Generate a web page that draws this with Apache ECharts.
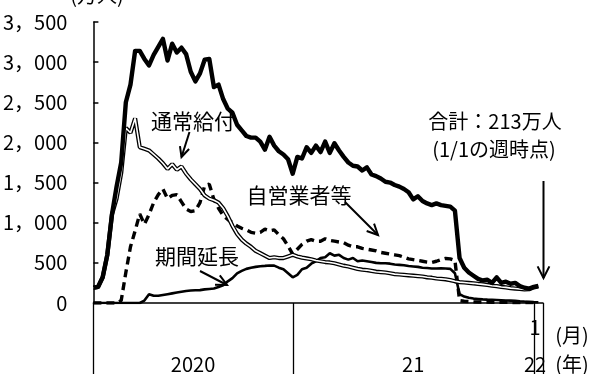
<!DOCTYPE html>
<html>
<head>
<meta charset="utf-8">
<script src="https://cdn.jsdelivr.net/npm/echarts@6/dist/echarts.min.js"></script>
<style>
  html, body { margin: 0; padding: 0; background: #fff; }
  #chart { width: 593px; height: 374px; }
</style>
</head>
<body>
<div id="chart"></div>
<script>
// Weekly continued claims (万人), first week of March 2020 to the week of 2022/1/1.
const total = [
  190, 200, 320, 600, 1100, 1450, 1750, 2500, 2720, 3140,
  3140, 3040, 2960, 3090, 3190, 3290, 3020, 3230, 3120, 3180,
  3100, 2880, 2760, 2860, 3030, 3040, 2690, 2720, 2540, 2420,
  2370, 2220, 2150, 2080, 2060, 2060, 2010, 1910, 2070, 1960,
  1890, 1850, 1790, 1610, 1820, 1800, 1940, 1870, 1960, 1880,
  2010, 1870, 1990, 1900, 1820, 1750, 1710, 1700, 1650, 1690,
  1600, 1580, 1550, 1510, 1500, 1470, 1450, 1420, 1380, 1290,
  1330, 1270, 1240, 1220, 1240, 1220, 1210, 1200, 1150, 560,
  440, 380, 340, 300, 280, 290, 250, 320, 250, 265,
  240, 250, 210, 190, 180, 200, 213
];
// 通常給付
const regular = [
  190, 200, 320, 600, 1100, 1300, 1620, 2180, 2120, 2300,
  1940, 1920, 1900, 1850, 1800, 1740, 1670, 1730, 1660, 1700,
  1610, 1540, 1480, 1420, 1340, 1300, 1280, 1250, 1180, 1080,
  960, 860, 790, 740, 700, 650, 620, 590, 560, 570,
  560, 560, 580, 600, 580, 565, 555, 545, 530, 520,
  510, 505, 495, 480, 465, 455, 440, 425, 415, 410,
  400, 390, 385, 380, 370, 360, 355, 350, 345, 340,
  335, 330, 320, 315, 305, 300, 295, 285, 270, 260,
  255, 250, 245, 238, 232, 225, 215, 210, 200, 195,
  185, 180, 175, 170, 172, 195, 205
];
// 自営業者等
const selfEmployed = [
  0, 0, 0, 0, 0, 0, 30, 380, 700, 900,
  1110, 980, 1100, 1250, 1350, 1420, 1300, 1340, 1350, 1260,
  1170, 1140, 1150, 1250, 1460, 1480, 1290, 1180, 1090, 1040,
  1000, 960, 930, 910, 880, 870, 880, 920, 900, 910,
  850, 800, 710, 610, 670, 730, 770, 790, 770, 770,
  800, 780, 770, 760, 750, 720, 700, 700, 680, 670,
  660, 650, 630, 620, 610, 600, 590, 570, 550, 540,
  530, 520, 510, 505, 520, 540, 555, 550, 530, 30,
  22, 18, 15, 13, 12, 11, 10, 9, 8, 8,
  7, 7, 6, 6, 5, 5, 5
];
// 期間延長
const extended = [
  0, 0, 0, 0, 0, 0, 0, 0, 0, 0,
  0, 30, 110, 90, 90, 100, 110, 120, 130, 140,
  150, 155, 158, 160, 170, 175, 180, 200, 220, 270,
  310, 370, 400, 425, 440, 450, 458, 462, 468, 465,
  440, 420, 370, 320, 350, 420, 440, 490, 520, 560,
  570, 620, 590, 600, 560, 540, 560, 520, 530, 520,
  510, 500, 495, 495, 490, 480, 475, 470, 460, 455,
  450, 440, 435, 430, 430, 432, 430, 425, 370, 110,
  80, 65, 55, 50, 45, 42, 40, 38, 35, 32,
  30, 28, 22, 18, 15, 12, 10
];

// Period boundaries on the week axis: start, 2021, 2022/1, end
const periodEdges = [0, 43, 95, 97];
const yearLabels = ['2020', '21', '22'];
const yearLabelAt = [21.5, 69, 95.3];
const monthLabels = ['1'];
const monthLabelAt = [95.3];

const FONT = '"Liberation Sans Narrow", "Noto Sans CJK JP", sans-serif';
const JP = '"Noto Sans CJK JP", sans-serif';

const pairs = arr => arr.map((v, i) => [i, v]);

const chart = echarts.init(document.getElementById('chart'), null, { renderer: 'canvas' });

const option = {
  animation: false,
  backgroundColor: '#fff',
  grid: { left: 93, right: 50, top: 22, bottom: 71 },
  xAxis: {
    type: 'value',
    min: periodEdges[0],
    max: periodEdges[periodEdges.length - 1],
    axisLine: { show: true, lineStyle: { color: '#000', width: 1.5 } },
    axisTick: { show: false },
    axisLabel: { show: false },
    splitLine: { show: false }
  },
  yAxis: {
    type: 'value',
    min: 0,
    max: 3500,
    interval: 500,
    axisLine: { show: true, lineStyle: { color: '#000', width: 1.5 } },
    axisTick: { show: true, inside: true, length: 5, lineStyle: { color: '#000', width: 1.5 } },
    axisLabel: {
      color: '#000',
      fontFamily: FONT,
      fontSize: 20,
      margin: 26,
      formatter: v => v >= 1000
        ? Math.floor(v / 1000) + '，' + String(v % 1000).padStart(3, '0')
        : String(v)
    },
    splitLine: { show: false }
  },
  series: [
    {
      name: '期間延長', type: 'line', data: pairs(extended), symbol: 'none',
      lineStyle: { color: '#000', width: 2.6 }, z: 2
    },
    {
      name: '自営業者等', type: 'line', data: pairs(selfEmployed), symbol: 'none',
      lineStyle: { color: '#000', width: 3.4, type: [8, 5] }, z: 3
    },
    {
      name: '通常給付', type: 'line', data: pairs(regular), symbol: 'none',
      lineStyle: { color: '#000', width: 4.2 }, z: 4
    },
    {
      name: '通常給付(内側)', type: 'line', data: pairs(regular), symbol: 'none',
      lineStyle: { color: '#fff', width: 1.6 }, z: 5
    },
    {
      name: '合計', type: 'line', data: pairs(total), symbol: 'none',
      lineStyle: { color: '#000', width: 4.4, join: 'round' }, z: 6
    }
  ]
};

chart.setOption(option);

// Annotations: period separators, year/month labels, series captions and arrows
function arrow(x1, y1, x2, y2, len, spread) {
  const a = Math.atan2(y2 - y1, x2 - x1);
  const p1 = [x2 - len * Math.cos(a - spread), y2 - len * Math.sin(a - spread)];
  const p2 = [x2 - len * Math.cos(a + spread), y2 - len * Math.sin(a + spread)];
  return [
    { type: 'line', shape: { x1, y1, x2, y2 }, style: { stroke: '#000', lineWidth: 2 } },
    { type: 'polyline', shape: { points: [p1, [x2, y2], p2] }, style: { stroke: '#000', lineWidth: 2, fill: null } }
  ];
}

function text(str, x, y, size, family) {
  return {
    type: 'text', x, y,
    style: { text: str, fill: '#000', font: `${size}px ${family}`, align: 'center', verticalAlign: 'middle' }
  };
}

const px = v => chart.convertToPixel({ xAxisIndex: 0 }, v);
const axisY = chart.convertToPixel({ yAxisIndex: 0 }, 0);
const H = chart.getHeight();

const elements = [];
periodEdges.forEach(v => {
  const x = Math.round(px(v)) + 0.5;
  elements.push({ type: 'line', shape: { x1: x, y1: axisY, x2: x, y2: H }, style: { stroke: '#000', lineWidth: 1.3 } });
});
yearLabels.forEach((s, k) => elements.push(text(s, px(yearLabelAt[k]), 364, 20, FONT)));
monthLabels.forEach((s, k) => elements.push(text(s, px(monthLabelAt[k]), 327, 20, FONT)));
elements.push(text('(月)', 572, 335, 20, JP));
elements.push(text('(年)', 572, 364, 20, JP));
elements.push(text('(万人)', 97, -5, 20, JP));

elements.push(text('通常給付', 193, 121, 21, JP));
elements.push(text('自営業者等', 299, 195, 21, JP));
elements.push(text('期間延長', 197, 256, 21, JP));
elements.push(text('合計：213万人', 495, 121, 20, FONT));
elements.push(text('(1/1の週時点)', 494, 149, 20, FONT));

elements.push(...arrow(189.5, 132, 181.5, 157, 11, 0.45));
elements.push(...arrow(345, 202, 378, 235, 12, 0.45));
elements.push(...arrow(200, 271, 227, 285, 12, 0.45));
elements.push(...arrow(543.5, 181, 543.5, 278, 13, 0.47));

chart.setOption({ graphic: { elements } });
</script>
</body>
</html>
